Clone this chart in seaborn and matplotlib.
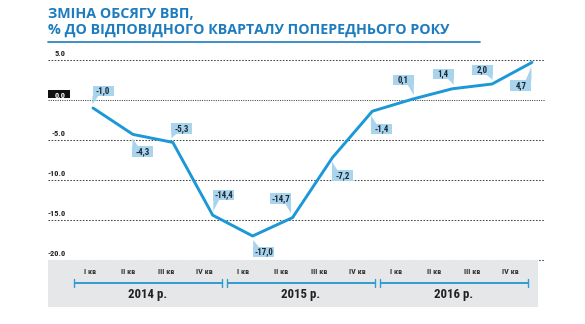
import matplotlib
matplotlib.use("Agg")
import matplotlib.pyplot as plt
import matplotlib.font_manager as fm
import matplotlib.transforms as mtransforms
from matplotlib.patches import Polygon, Rectangle
import numpy as np
import pandas as pd
import seaborn as sns

# --- data ---------------------------------------------------------------
quarters = ["I кв", "II кв", "III кв", "IV кв"] * 3
years = ["2014 р.", "2015 р.", "2016 р."]
gdp_change = [-1.0, -4.3, -5.3, -14.4, -17.0, -14.7, -7.2, -1.4, 0.1, 1.4, 2.0, 4.7]
y_ticks = [5.0, 0.0, -5.0, -10.0, -15.0, -20.0]
title_lines = ["ЗМІНА ОБСЯГУ ВВП,", "% ДО ВІДПОВІДНОГО КВАРТАЛУ ПОПЕРЕДНЬОГО РОКУ"]

# label box offsets (pixels) relative to each point
label_dx = [10, 10, 9, 11, 11, -12, 10, 9, -9, -9, -10, -11]
label_dy = [17, -17, 14, 20, -16, 19, -18, -18, 19, 15, 14, -23]

df = pd.DataFrame({"idx": np.arange(len(gdp_change)), "value": gdp_change})


def pick_font(names):
    for n in names:
        try:
            fm.findfont(fm.FontProperties(family=n), fallback_to_default=False)
            return n
        except Exception:
            continue
    return "DejaVu Sans"


sns.set_theme(style="white")
narrow = pick_font(["Liberation Sans Narrow", "Roboto Condensed", "Roboto"])
title_font = pick_font(["Open Sans", "Noto Sans"])
plt.rcParams["font.family"] = [narrow, "DejaVu Sans"]

W, H = 585, 324
fig = plt.figure(figsize=(W / 100, H / 100), dpi=100)
fig.patch.set_facecolor("white")


def px_rect(x0, x1, y0, y1):
    return [x0 / W, (H - y1) / H, (x1 - x0) / W, (y1 - y0) / H]


BLUE_LINE = "#1b98d5"
BOX = "#a9d4ee"
TITLE_BLUE = "#1d7cc0"
DARK = "#1e2833"

# --- main axes ----------------------------------------------------------
ax = fig.add_axes(px_rect(48, 545, 50, 262))
ax.set_xlim(-1.128, 11.326)
ax.set_ylim(-20.25, 6.25)
for s in ax.spines.values():
    s.set_visible(False)
ax.set_xticks([])
ax.set_yticks([])
ax.patch.set_alpha(0)

for t in y_ticks:
    ls = (0, (1, 1.2)) if t == 0 else (0, (1.5, 1.5))
    ax.axhline(t, color="#444444", lw=0.75, ls=ls, zorder=1)

blend = mtransforms.blended_transform_factory(ax.transAxes, ax.transData)
xr = (66 - 48) / 497
for t in y_ticks:
    txt = f"{t:.1f}"
    if t == 0:
        ax.add_patch(Rectangle((0, 0.25), (70 - 48) / 497, 1.0, transform=blend,
                               facecolor="#111111", edgecolor="none", zorder=2))
        ax.annotate(txt, (xr, t), xycoords=blend, xytext=(0, 5), textcoords="offset pixels",
                    ha="right", va="center", fontsize=6.0, fontweight="bold",
                    color="white", zorder=3)
    else:
        ax.annotate(txt, (xr, t), xycoords=blend, xytext=(0, 6), textcoords="offset pixels",
                    ha="right", va="center", fontsize=6.0, fontweight="bold",
                    color="#222222", zorder=3)

sns.lineplot(data=df, x="idx", y="value", ax=ax, color=BLUE_LINE, lw=2.1,
             zorder=4, legend=False)
ax.set_xlabel("")
ax.set_ylabel("")

# value labels with pointer triangles
fig.canvas.draw()
ident = mtransforms.IdentityTransform()
bw, bh = 10.5, 5.2
for i, v in enumerate(gdp_change):
    dx, dy = label_dx[i], label_dy[i]
    px, py = ax.transData.transform((i, v))
    cx, cy = px + dx, py + dy
    sx, sy = np.sign(dx), np.sign(dy)
    cornx = cx - sx * bw
    corny = cy - sy * bh
    tri = [(cornx, corny + sy * 0.5), (cornx + sx * 6, corny + sy * 0.5),
           (cornx, py + sy * 4)]
    ax.add_patch(Polygon(tri, closed=True, transform=ident, facecolor=BOX,
                         edgecolor="none", zorder=5))
    ax.add_patch(Rectangle((cx - bw, cy - bh), 2 * bw, 2 * bh, transform=ident,
                           facecolor=BOX, edgecolor="none", zorder=5))
    ax.annotate(f"{v:.1f}".replace(".", ","), (i, v), xytext=(dx, dy),
                textcoords="offset pixels", ha="center", va="center",
                fontsize=6.4, fontweight="bold", color=DARK, zorder=6)

# --- bottom band with quarters and years ---------------------------------
bx = fig.add_axes(px_rect(48, 538, 260, 307))
bx.set_facecolor("#e6e7e9")
bx.set_xlim(-1.097, 11.71)
bx.set_ylim(1, 0)
for s in bx.spines.values():
    s.set_visible(False)
bx.set_xticks([])
bx.set_yticks([])

for i, q in enumerate(quarters):
    bx.text(i, 0.255, q, ha="center", va="center", fontsize=5.8,
            fontweight="bold", color="#333333")

BR = "#2e9bd6"
for k, yr in enumerate(years):
    x0, x1 = 4 * k - 0.42, 4 * k + 3.45
    bx.plot([x0, x1], [0.49, 0.49], color=BR, lw=1.4, solid_capstyle="butt")
    for xe in (x0, x1):
        bx.plot([xe, xe], [0.40, 0.58], color=BR, lw=1.0)
    bx.text((x0 + x1) / 2, 0.73, yr, ha="center", va="center", fontsize=9.3,
            fontweight="bold", color="#222222")

# --- title ---------------------------------------------------------------
fig.text(48 / W, 1 - 14 / H, title_lines[0], fontsize=10.3, fontweight="bold",
         color=TITLE_BLUE, family=[title_font, "DejaVu Sans"], ha="left", va="center")
fig.text(48 / W, 1 - 30 / H, title_lines[1], fontsize=10.3, fontweight="bold",
         color=TITLE_BLUE, family=[title_font, "DejaVu Sans"], ha="left", va="center")
fig.add_artist(plt.Line2D([48 / W, 480 / W], [1 - 42 / H, 1 - 42 / H],
                          color=TITLE_BLUE, lw=1.2, transform=fig.transFigure))

fig.savefig("out.png", dpi=100)
